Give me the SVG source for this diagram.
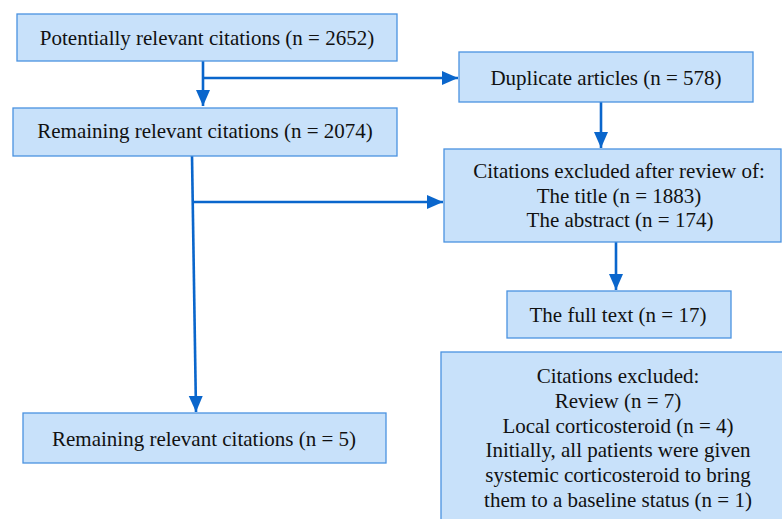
<svg xmlns="http://www.w3.org/2000/svg" width="782" height="519" viewBox="0 0 782 519">
<style>
.box{fill:#c8e1fa;stroke:#4a92e0;stroke-width:1.3}
.t{font-family:"Liberation Serif","Times New Roman",serif;font-size:21px;fill:#111;text-anchor:middle}
.c{stroke:#0a66cc;stroke-width:2.6;fill:none}
</style>
<defs>
<marker id="ah" markerUnits="userSpaceOnUse" markerWidth="18" markerHeight="16" refX="16" refY="7" orient="auto">
<path d="M0,0 L16,7 L0,14 Z" fill="#0a66cc"/>
</marker>
</defs>
<rect width="782" height="519" fill="#fff"/>
<g id="connectors">
<line class="c" x1="203" y1="61" x2="203" y2="106" marker-end="url(#ah)"/>
<line class="c" x1="203" y1="78" x2="458" y2="78" marker-end="url(#ah)"/>
<line class="c" x1="601" y1="102" x2="601" y2="148" marker-end="url(#ah)"/>
<line class="c" x1="192" y1="156" x2="196" y2="412" marker-end="url(#ah)"/>
<line class="c" x1="192" y1="202" x2="443" y2="202" marker-end="url(#ah)"/>
<line class="c" x1="616" y1="242" x2="616" y2="290" marker-end="url(#ah)"/>
</g>
<g id="n1"><rect class="box" x="17" y="14" width="380" height="47"/><text class="t" x="207" y="45">Potentially relevant citations (n = 2652)</text></g>
<g id="n2"><rect class="box" x="13" y="108" width="384" height="48"/><text class="t" x="205" y="138">Remaining relevant citations (n = 2074)</text></g>
<g id="n3"><rect class="box" x="459" y="52" width="294" height="50"/><text class="t" x="606" y="85">Duplicate articles (n = 578)</text></g>
<g id="n4"><rect class="box" x="444" y="149" width="337" height="93"/>
<text class="t" x="619" y="178">Citations excluded after review of:</text>
<text class="t" x="619" y="203">The title (n = 1883)</text>
<text class="t" x="620" y="227">The abstract (n = 174)</text></g>
<g id="n5"><rect class="box" x="507" y="291" width="224" height="47"/><text class="t" x="618" y="322">The full text (n = 17)</text></g>
<g id="n6"><rect class="box" x="23" y="413" width="363" height="50"/><text class="t" x="204" y="446">Remaining relevant citations (n = 5)</text></g>
<g id="n7"><rect class="box" x="441" y="352" width="345" height="175"/>
<text class="t" x="618" y="383">Citations excluded:</text>
<text class="t" x="618" y="408">Review (n = 7)</text>
<text class="t" x="618" y="433">Local corticosteroid (n = 4)</text>
<text class="t" x="618" y="457">Initially, all patients were given</text>
<text class="t" x="618" y="482">systemic corticosteroid to bring</text>
<text class="t" x="618" y="507">them to a baseline status (n = 1)</text></g>
</svg>
